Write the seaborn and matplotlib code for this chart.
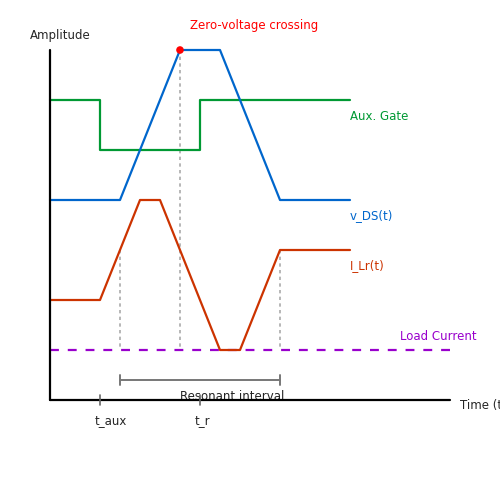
import numpy as np
import pandas as pd
import matplotlib
matplotlib.use("Agg")
import matplotlib.pyplot as plt
import seaborn as sns

# waveform data (time, level) in drawing units, y grows downward
gate_t = [50, 100, 100, 200, 200, 350]
gate_y = [100, 100, 150, 150, 100, 100]
vds_t = [50, 120, 180, 220, 280, 350]
vds_y = [200, 200, 50, 50, 200, 200]
ilr_t = [50, 100, 140, 160, 220, 240, 280, 350]
ilr_y = [300, 300, 200, 200, 350, 350, 250, 250]
load_t = [50, 450]
load_y = [350, 350]

# marker lines
guide_t = [120, 180, 280]
guide_top = [250, 50, 250]
guide_bottom = 350
zvs_point = (180, 50)
tick_t = [100, 200]
tick_labels = ["t_aux", "t_r"]
resonant_span = (120, 280)

sns.set_theme(style="white")
plt.rcParams["font.family"] = ["DejaVu Sans"]
FS = 8.5

fig = plt.figure(figsize=(5, 5), dpi=100)
ax = fig.add_axes([0, 0, 1, 1])

# guides behind the curves
for gx, gtop in zip(guide_t, guide_top):
    ax.plot([gx, gx], [gtop, guide_bottom], color="#aaaaaa", lw=1.2,
            ls=(0, (2, 2)), zorder=1)

series = [
    (gate_t, gate_y, "#009933"),
    (vds_t, vds_y, "#0066cc"),
    (ilr_t, ilr_y, "#cc3300"),
]
for t, y, c in series:
    df = pd.DataFrame({"t": t, "y": y})
    sns.lineplot(data=df, x="t", y="y", sort=False, estimator=None,
                 color=c, lw=1.6, ax=ax, zorder=3)

load_df = pd.DataFrame({"t": load_t, "y": load_y})
sns.lineplot(data=load_df, x="t", y="y", sort=False, estimator=None,
             color="#9900cc", lw=1.6, ax=ax, zorder=2,
             linestyle=(0, (4, 4)))

# axes
ax.plot([50, 50], [50, 400], color="black", lw=1.6, zorder=4)
ax.plot([50, 450], [400, 400], color="black", lw=1.6, zorder=4)
ax.set_xlim(0, 500)
ax.set_ylim(500, 0)
ax.set_xlabel("")
ax.set_ylabel("")
ax.axis("off")

# zero-voltage point
ax.scatter([zvs_point[0]], [zvs_point[1]], s=30, color="#ff0000", zorder=5,
           edgecolor="none")

# time ticks
for tx, lab in zip(tick_t, tick_labels):
    ax.plot([tx, tx], [395, 405], color="#666666", lw=1.2, zorder=4)
    ax.text(tx - 5, 421, lab, fontsize=FS, ha="left", va="center")

# resonant interval bracket
r0, r1 = resonant_span
ax.plot([r0, r1], [380, 380], color="#777777", lw=1.4, zorder=3)
for rx in resonant_span:
    ax.plot([rx, rx], [375, 385], color="#777777", lw=1.4, zorder=3)
ax.text(180, 396, "Resonant interval", fontsize=FS, ha="left", va="center",
        color="#222222")

# labels
ax.text(30, 36, "Amplitude", fontsize=FS, ha="left", va="center")
ax.text(460, 406, "Time (t)", fontsize=FS, ha="left", va="center")
ax.text(190, 26, "Zero-voltage crossing", fontsize=FS, ha="left",
        va="center", color="#ff0000")
ax.text(350, 116, "Aux. Gate", fontsize=FS, ha="left", va="center",
        color="#009933")
ax.text(350, 216, "v_DS(t)", fontsize=FS, ha="left", va="center",
        color="#0066cc")
ax.text(350, 266, "I_Lr(t)", fontsize=FS, ha="left", va="center",
        color="#cc3300")
ax.text(400, 336, "Load Current", fontsize=FS, ha="left", va="center",
        color="#9900cc")

fig.savefig("out.png", dpi=100)
